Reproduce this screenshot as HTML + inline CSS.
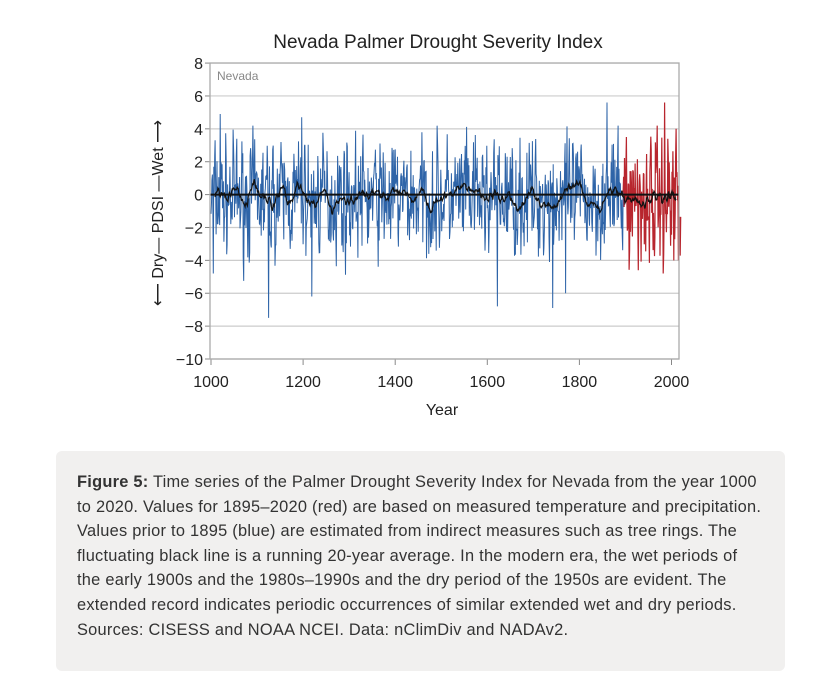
<!DOCTYPE html>
<html><head><meta charset="utf-8"><style>
body{margin:0;background:#fff;width:834px;height:694px;overflow:hidden;font-family:"Liberation Sans",sans-serif;}
.cap{position:absolute;left:56px;top:451px;width:729px;height:220px;background:#f1f0ef;border-radius:6px;box-sizing:border-box;padding:19px 0 0 21px;font-size:16.4px;line-height:24.6px;color:#333;white-space:nowrap;letter-spacing:0.25px;}
</style></head><body>
<svg id="s" width="834" height="440" style="position:absolute;left:0;top:0" font-family="Liberation Sans, sans-serif">
<text x="438" y="48" font-size="19" text-anchor="middle" fill="#222">Nevada Palmer Drought Severity Index</text>
<g id="grid"></g>
<text x="217" y="80" font-size="12" fill="#888">Nevada</text>
<g id="data"></g>
<rect x="210" y="63" width="469" height="296" fill="none" stroke="#aaa" stroke-width="1.3"/>
<text x="442" y="415" font-size="16" text-anchor="middle" fill="#222">Year</text>
<text transform="translate(163,213) rotate(-90)" font-size="16" text-anchor="middle" fill="#222">⟵ Dry—  PDSI  —Wet ⟶</text>
</svg>
<div class="cap"><b>Figure 5:</b> Time series of the Palmer Drought Severity Index for Nevada from the year 1000<br>to 2020. Values for 1895–2020 (red) are based on measured temperature and precipitation.<br>Values prior to 1895 (blue) are estimated from indirect measures such as tree rings. The<br>fluctuating black line is a running 20-year average. In the modern era, the wet periods of<br>the early 1900s and the 1980s–1990s and the dry period of the 1950s are evident. The<br>extended record indicates periodic occurrences of similar extended wet and dry periods.<br>Sources: CISESS and NOAA NCEI. Data: nClimDiv and NADAv2.</div>
<script>
function Y(v){return 194.6-v*16.44;}
function X(t){return 211+(t-1000)*0.4605;}
var g=document.getElementById('grid'),h='';
for(var v=8;v>=-10;v-=2){var y=Y(v);h+='<line x1="210" x2="679" y1="'+y+'" y2="'+y+'" stroke="#ccc" stroke-width="1.2"/>';
h+='<line x1="205" x2="210" y1="'+y+'" y2="'+y+'" stroke="#888"/>';
h+='<text x="203" y="'+(y+6)+'" font-size="16" text-anchor="end" fill="#222">'+(v<0?'\u2212'+(-v):v)+'</text>';}
for(var t=1000;t<=2000;t+=200){var x=X(t);h+='<line x1="'+x+'" x2="'+x+'" y1="359" y2="365" stroke="#888"/><text x="'+x+'" y="387" font-size="16" text-anchor="middle" fill="#222">'+t+'</text>';}
g.innerHTML=h;
var seed=7;function r(){seed=(seed*16807)%2147483647;return seed/2147483647;}
function n(){return (r()+r()+r()-1.5)*2.9;}
var vals=[],a=0;
for(var t=1000;t<=2020;t++){a=0.2*a+n();var amp=t>1895?1.35:1.15;var v=a*amp-0.2;v=Math.max(-5.8,Math.min(4.2,v));vals.push(v);}
vals[20]=4.9;vals[5]=-4.8;vals[125]=-7.5;vals[197]=4.7;vals[219]=-6.2;vals[622]=-6.8;vals[860]=5.6;vals[985]=5.6;vals[742]=-6.9;vals[1005]=-4;vals[1015]=-4;vals[928]=-4.6;vals[770]=-6;vals[1010]=4;
var pb='',pr='';
for(var i=0;i<vals.length;i++){var t=1000+i;var s=X(t).toFixed(1)+','+Y(vals[i]).toFixed(1)+' ';if(t<=1895)pb+=s;if(t>=1895)pr+=s;}
var sm='';
for(var i=19;i<vals.length;i++){var m=0;for(var j=i-19;j<=i;j++)m+=vals[j];m/=20;sm+=X(1000+i-10).toFixed(1)+','+Y(m*0.8).toFixed(1)+' ';}
document.getElementById('data').innerHTML='<polyline points="'+pb+'" fill="none" stroke="#2e64a8" stroke-width="1"/><polyline points="'+pr+'" fill="none" stroke="#b8262e" stroke-width="1.2"/><line x1="210" x2="679" y1="'+Y(0)+'" y2="'+Y(0)+'" stroke="#111" stroke-width="2"/><polyline points="'+sm+'" fill="none" stroke="#111" stroke-width="1.2"/>';
</script>
</body></html>
